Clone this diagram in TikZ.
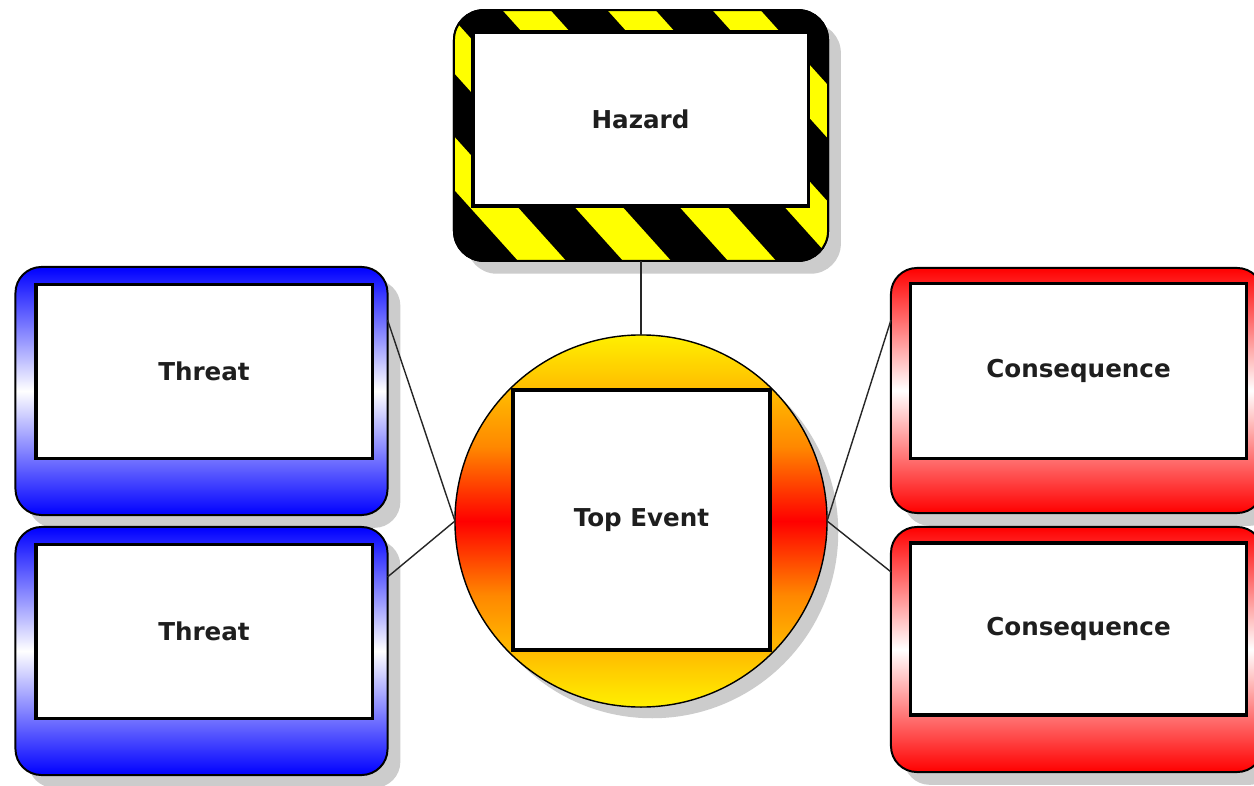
\documentclass[tikz,border=0pt]{standalone}
\usepackage{fontspec}
\setmainfont{DejaVu Sans}
\usetikzlibrary{shadows}
\definecolor{ylw}{RGB}{255,240,0}
\definecolor{orgA}{RGB}{255,187,0}
\definecolor{orgB}{RGB}{255,136,0}
\definecolor{hzyellow}{RGB}{255,255,0}
\definecolor{txtgray}{RGB}{30,30,30}
\definecolor{shadowgray}{RGB}{204,204,204}
\pgfdeclareverticalshading{teshade}{100bp}{color(0bp)=(ylw); color(25bp)=(ylw); color(32.5bp)=(orgA); color(40bp)=(orgB); color(50bp)=(red); color(60bp)=(orgB); color(67.5bp)=(orgA); color(75bp)=(ylw); color(100bp)=(ylw)}
\tikzset{
  shadowed/.style={drop shadow={shadow xshift=0.32cm,shadow yshift=-0.32cm,fill=shadowgray,opacity=1}},
  outerbox/.style={rounded corners=0.65cm, draw=black, line width=1.4pt, outer sep=0pt,
    minimum width=9.3cm, minimum height=6.2cm, shadowed},
  threatbox/.style={outerbox, top color=blue, bottom color=blue, middle color=white},
  conbox/.style={outerbox, top color=red, bottom color=red, middle color=white},
  innerbox/.style={draw=black, line width=2.2pt, fill=white, outer sep=0pt, inner sep=0pt,
    minimum width=8.4cm, minimum height=4.37cm,
    font=\fontsize{17.5}{21}\selectfont\bfseries, text=txtgray},
  link/.style={draw=black!85, line width=1pt}
}
\begin{document}
\begin{tikzpicture}[x=0.025cm,y=-0.025cm]
\useasboundingbox (0,0) rectangle (1254,786);
\fill[white] (0,0) rectangle (1254,786);

% Hazard
\node[outerbox, fill=black, rounded corners=0.75cm, minimum width=9.35cm, minimum height=6.27cm] (hz) at (641,135.5) {};
\begin{scope}
  \clip[rounded corners=0.75cm] (hz.north west) rectangle (hz.south east);
  \foreach \xo in {85,190,295,400,505,610,715,820} {
    \fill[hzyellow] (\xo-11.7,0) -- (\xo+36.3,0) -- (\xo+288.3,280) -- (\xo+240.3,280) -- cycle;
  }
\end{scope}
\draw[line width=1.4pt, rounded corners=0.75cm] (hz.north west) rectangle (hz.south east);
\node[innerbox, minimum width=8.375cm, minimum height=4.35cm] (hzin) at (640.5,119) {Hazard};

% Threats
\node[threatbox] (t1) at (201.5,391) {};
\node[innerbox] (t1in) at (204,371.5) {Threat};
\node[threatbox] (t2) at (201.5,651) {};
\node[innerbox] (t2in) at (204,631.5) {Threat};

% Consequences
\node[conbox, minimum height=6.125cm] (c1) at (1077,390.5) {};
\node[innerbox] (c1in) at (1078.5,371) {Consequence};
\node[conbox, minimum height=6.125cm] (c2) at (1077,649.5) {};
\node[innerbox, minimum height=4.3cm] (c2in) at (1078.5,629) {Consequence};

% Top event
\node[circle, draw=black, line width=1pt, outer sep=0pt, minimum size=9.3cm, shading=teshade,
  drop shadow={shadow xshift=0.28cm,shadow yshift=-0.28cm,fill=shadowgray,opacity=1}] (te) at (641,521) {};
\node[innerbox, minimum width=6.425cm, minimum height=6.5cm] (tein) at (641.5,520) {Top Event};

% Connectors
\draw[link] (hz.south) -- (te.north);
\draw[link] ([yshift=1.775cm]t1.east) -- (te.west);
\draw[link] ([yshift=1.85cm]t2.east) -- (te.west);
\draw[link] ([yshift=1.76cm]c1.west) -- (te.east);
\draw[link] ([yshift=1.94cm]c2.west) -- (te.east);
\end{tikzpicture}
\end{document}
